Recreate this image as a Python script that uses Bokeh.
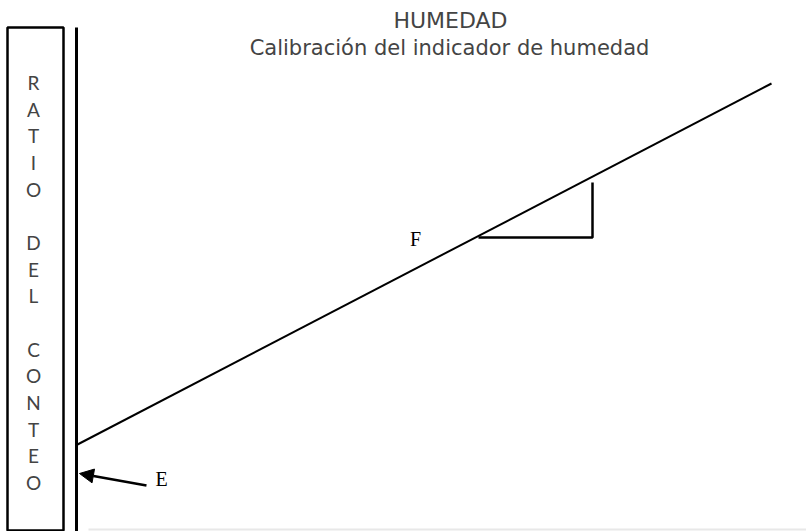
from bokeh.plotting import figure
from bokeh.models import Range1d, Arrow, NormalHead, ColumnDataSource
from bokeh.core.properties import value
from bokeh.embed import file_html
from bokeh.resources import INLINE

# ---- data (diagram units: x = moisture, y = count ratio) ----
title_main = "HUMEDAD"
title_sub = "Calibración del indicador de humedad"
y_label_letters = ["R", "A", "T", "I", "O", "", "D", "E", "L", "", "C", "O", "N", "T", "E", "O"]

calib_x = [77, 771]          # calibration line
calib_y = [87, 448]
slope_x = [478, 592, 592]    # slope triangle
slope_y = [294, 294, 349]
axis_x = [76, 76]            # vertical axis line
axis_y = [-5, 504]
base_x = [88, 806]           # faint horizontal axis
base_y = [2, 2]
box_left, box_right, box_bottom, box_top = [7], [63], [1], [504]
label_F = (415, 293)
label_E = (161, 53)
arrow_tail = (146, 46)
arrow_tip = (79, 58)
letters_x = 33
letters_top = 449
letters_step = 26.67

W, H = 806, 531
p = figure(width=W, height=H, output_backend="svg", toolbar_location=None,
           x_range=Range1d(0, W), y_range=Range1d(0, H),
           x_axis_type=None, y_axis_type=None, min_border=0,
           outline_line_color=None, background_fill_color="white",
           border_fill_color="white")
p.grid.visible = False

# box around y label
p.quad(left=box_left, right=box_right, bottom=box_bottom, top=box_top,
       fill_color=None, line_color="black", line_width=2.5)
# letters of vertical label
ys = [letters_top - i * letters_step for i in range(len(y_label_letters))]
src = ColumnDataSource(dict(x=[letters_x] * len(ys), y=ys, t=y_label_letters))
p.text(x="x", y="y", text="t", source=src, text_align="center", text_baseline="middle",
       text_font=value("Lato"), text_font_size="19px", text_color="#444444")

# axes
p.line(axis_x, axis_y, line_color="black", line_width=3)
p.line(base_x, base_y, line_color="#e8e8e8", line_width=2)

# calibration line and slope triangle
p.line(calib_x, calib_y, line_color="black", line_width=2)
p.line(slope_x, slope_y, line_color="black", line_width=2.5)

# labels
p.text(x=[label_F[0]], y=[label_F[1]], text=["F"], text_align="center", text_baseline="middle",
       text_font=value("Liberation Serif"), text_font_size="20px", text_color="black")
p.text(x=[label_E[0]], y=[label_E[1]], text=["E"], text_align="center", text_baseline="middle",
       text_font=value("Liberation Serif"), text_font_size="20px", text_color="black")

# arrow to intercept
p.add_layout(Arrow(x_start=arrow_tail[0], y_start=arrow_tail[1], x_end=arrow_tip[0], y_end=arrow_tip[1],
                   line_width=2.5, line_color="black",
                   end=NormalHead(size=14, fill_color="black", line_color="black")))

# titles
p.text(x=[450], y=[511], text=[title_main], text_align="center", text_baseline="middle",
       text_font=value("DejaVu Sans"), text_font_size="22px", text_color="#444444")
p.text(x=[449], y=[484], text=[title_sub], text_align="center", text_baseline="middle",
       text_font=value("DejaVu Sans"), text_font_size="21px", text_color="#444444")

open("out.html", "w").write(file_html(p, INLINE))
